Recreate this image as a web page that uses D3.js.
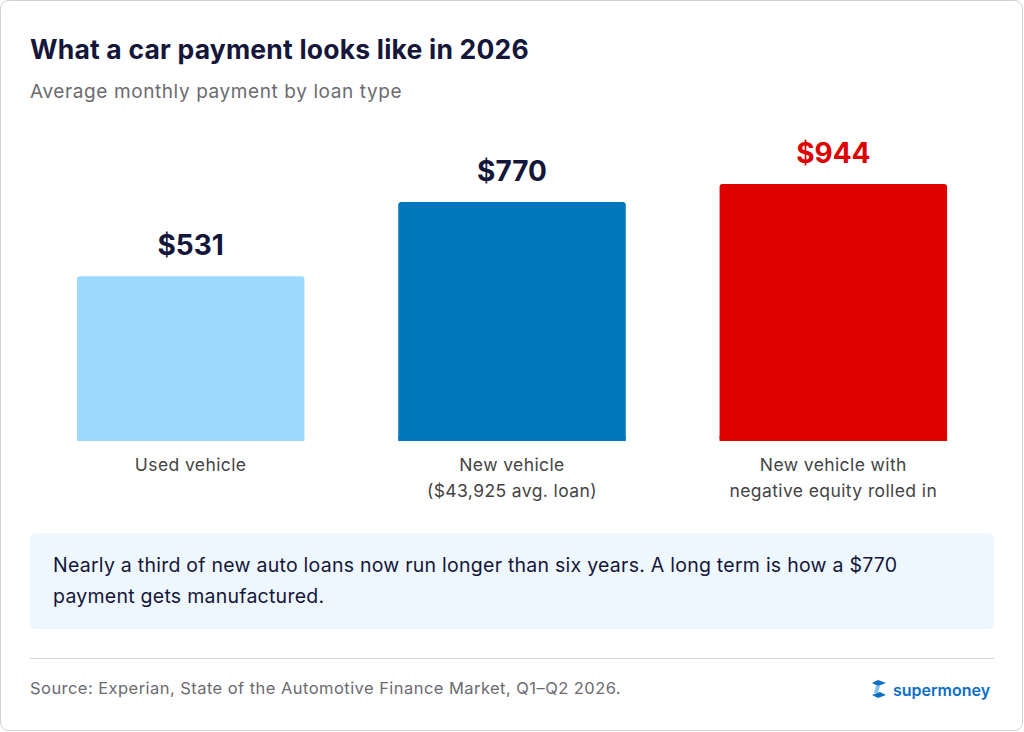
<!DOCTYPE html>
<html><head><meta charset="utf-8">
<script src="https://cdn.jsdelivr.net/npm/d3@7"></script>
<style>body{margin:0;background:#fff}svg{display:block;font-family:Inter,"Noto Sans",sans-serif}</style>
</head><body>
<svg id="c" width="1024" height="732"></svg>
<script>
const categories = ["Used vehicle", "New vehicle", "New vehicle with"];
const categoryLine2 = ["", "($43,925 avg. loan)", "negative equity rolled in"];
const values = [531, 770, 944];
const valueLabels = ["$531", "$770", "$944"];
const colors = ["#9dd9fd", "#0077bd", "#df0000"];
const labelColors = ["#14163a", "#14163a", "#df0000"];

const svg = d3.select("#c");
svg.append("rect").attr("x",0.5).attr("y",0.5).attr("width",1022).attr("height",730).attr("rx",8)
  .attr("fill","#fff").attr("stroke","#cfcfd4");
svg.append("text").attr("x",30).attr("y",59).attr("font-size",26.5).attr("font-weight",700).attr("fill","#14163a")
  .attr("letter-spacing",0.2).text("What a car payment looks like in 2026");
svg.append("text").attr("x",30).attr("y",98).attr("font-size",19).attr("fill","#6b6b70")
  .attr("letter-spacing",0.6).text("Average monthly payment by loan type");

const x = d3.scaleBand().domain(categories).range([30,994]).paddingInner(0.292).paddingOuter(0.146);
const y = d3.scaleLinear().domain([0,828]).range([441,184]).clamp(true);

const g = svg.append("g");
g.selectAll("rect.bar").data(values).join("rect").attr("class","bar")
  .attr("x",(d,i)=>x(categories[i])).attr("width",x.bandwidth())
  .attr("y",d=>y(d)).attr("height",d=>441-y(d)).attr("rx",3).attr("fill",(d,i)=>colors[i]);
g.selectAll("rect.base").data(values).join("rect").attr("class","base")
  .attr("x",(d,i)=>x(categories[i])).attr("width",x.bandwidth())
  .attr("y",436).attr("height",5).attr("fill",(d,i)=>colors[i]);
g.selectAll("text.val").data(values).join("text").attr("class","val")
  .attr("x",(d,i)=>x(categories[i])+x.bandwidth()/2).attr("y",d=>y(d)-21)
  .attr("text-anchor","middle").attr("font-size",28).attr("font-weight",700)
  .attr("fill",(d,i)=>labelColors[i]).text((d,i)=>valueLabels[i]);
g.selectAll("text.cat").data(categories).join("text").attr("class","cat")
  .attr("x",d=>x(d)+x.bandwidth()/2).attr("y",471).attr("text-anchor","middle")
  .attr("font-size",17.5).attr("letter-spacing",0.4).attr("fill","#444").text(d=>d);
g.selectAll("text.cat2").data(categoryLine2).join("text").attr("class","cat2")
  .attr("x",(d,i)=>x(categories[i])+x.bandwidth()/2).attr("y",497).attr("text-anchor","middle")
  .attr("font-size",17.5).attr("letter-spacing",0.4).attr("fill","#444").text(d=>d);

svg.append("rect").attr("x",30).attr("y",533).attr("width",964).attr("height",96).attr("rx",6).attr("fill","#eef6fe");
svg.append("text").attr("x",53).attr("y",572).attr("font-size",19.5).attr("letter-spacing",0.25).attr("fill","#14163a")
  .text("Nearly a third of new auto loans now run longer than six years. A long term is how a $770");
svg.append("text").attr("x",53).attr("y",603).attr("font-size",19.5).attr("letter-spacing",0.25).attr("fill","#14163a")
  .text("payment gets manufactured.");
svg.append("line").attr("x1",30).attr("x2",994).attr("y1",658.5).attr("y2",658.5).attr("stroke","#d4d4d8");
svg.append("text").attr("x",30).attr("y",694).attr("font-size",16.5).attr("letter-spacing",0.45).attr("fill","#6b6b70")
  .text("Source: Experian, State of the Automotive Finance Market, Q1\u2013Q2 2026.");
const lg = svg.append("g").attr("transform","translate(872,680)");
lg.append("path").attr("d","M6,0 L14,3 L6,6 L0,3 Z").attr("fill","#0b6fc4");
lg.append("path").attr("d","M4,6 L8,6 L6,13 L2,13 Z").attr("fill","#7fc3f5");
lg.append("path").attr("d","M0,15 L8,12 L14,15 L6,18 Z").attr("fill","#0b6fc4");
svg.append("text").attr("x",893).attr("y",696).attr("font-size",16).attr("font-weight",600)
  .attr("fill","#0b6fc4").text("supermoney");
</script></body></html>
